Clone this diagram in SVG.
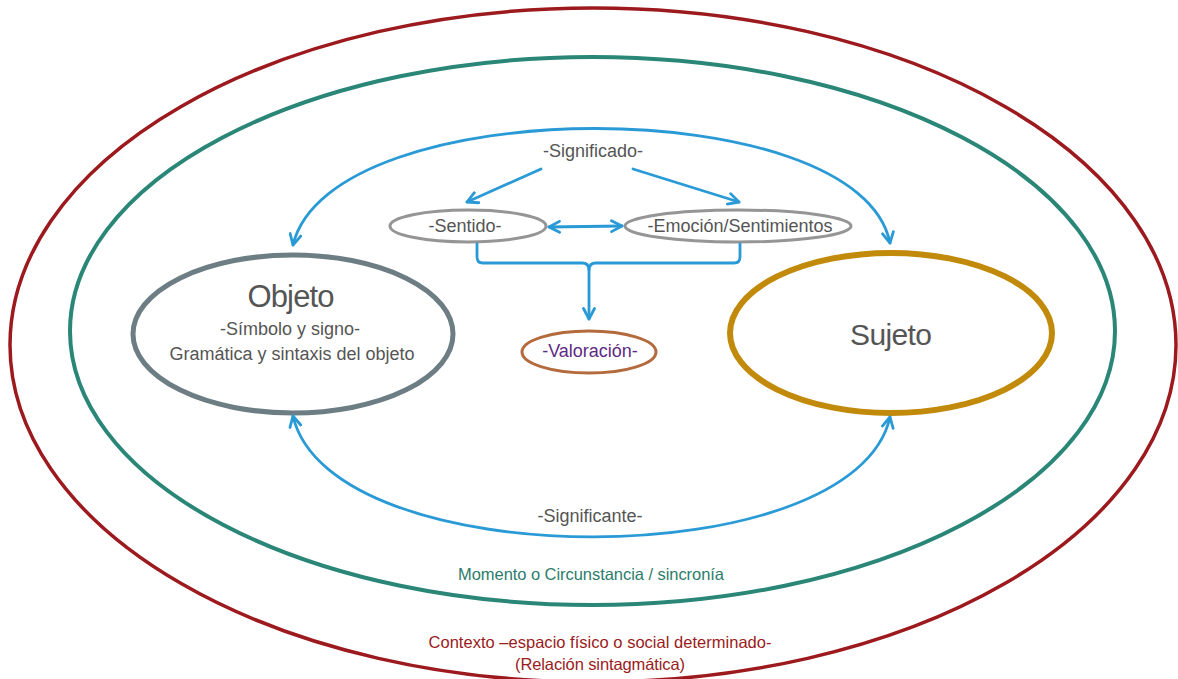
<svg xmlns="http://www.w3.org/2000/svg" width="1178" height="679" viewBox="0 0 1178 679">
  <style>
    .lbl { font-family: "Liberation Sans", Arial, sans-serif; fill: #555555; text-anchor: middle; }
    .conn { fill: none; stroke: #2a9ad6; stroke-width: 2.8; stroke-linecap: round; stroke-linejoin: round; }
  </style>
  <defs>
    <marker id="arrow" viewBox="0 0 14 14" refX="12" refY="7" markerWidth="14" markerHeight="14" markerUnits="userSpaceOnUse" orient="auto-start-reverse">
      <path d="M1.5,1.5 L12,7 L1.5,12.5" fill="none" stroke="#2a9ad6" stroke-width="2.8" stroke-linecap="round" stroke-linejoin="round"/>
    </marker>
  </defs>
  <rect width="1178" height="679" fill="#ffffff"/>

  <!-- outer context ring -->
  <g id="contexto">
    <ellipse cx="593" cy="345" rx="583" ry="337" fill="none" stroke="#9c1a1e" stroke-width="3.5"/>
    <text class="lbl" x="600" y="648" font-size="16.5" style="fill:#9a1b20" textLength="343">Contexto –espacio físico o social determinado-</text>
    <text class="lbl" x="600" y="670" font-size="16.5" style="fill:#9a1b20" textLength="170">(Relación sintagmática)</text>
  </g>

  <!-- moment / synchrony ring -->
  <g id="momento">
    <ellipse cx="592.5" cy="331" rx="522.5" ry="274" fill="none" stroke="#2a8677" stroke-width="4"/>
    <text class="lbl" x="591" y="580" font-size="16.5" style="fill:#2d7c6b" textLength="266">Momento o Circunstancia / sincronía</text>
  </g>

  <g id="objeto">
    <ellipse cx="293" cy="334" rx="160" ry="79" fill="#ffffff" stroke="#6d7d84" stroke-width="5"/>
    <text class="lbl" x="291" y="307" font-size="31" textLength="87">Objeto</text>
    <text class="lbl" x="290" y="335" font-size="18">-Símbolo y signo-</text>
    <text class="lbl" x="292" y="360" font-size="18">Gramática y sintaxis del objeto</text>
  </g>

  <g id="sujeto">
    <ellipse cx="891" cy="333" rx="161" ry="80" fill="#ffffff" stroke="#c28a0a" stroke-width="6"/>
    <text class="lbl" x="891" y="345" font-size="30" textLength="82">Sujeto</text>
  </g>

  <g id="sentido">
    <ellipse cx="468" cy="226" rx="78" ry="16" fill="#ffffff" stroke="#959595" stroke-width="3"/>
    <text class="lbl" x="465" y="232" font-size="18">-Sentido-</text>
  </g>

  <g id="emocion">
    <ellipse cx="738" cy="226" rx="113" ry="16" fill="#ffffff" stroke="#959595" stroke-width="3"/>
    <text class="lbl" x="740" y="232" font-size="18" textLength="185">-Emoción/Sentimientos</text>
  </g>

  <g id="valoracion">
    <ellipse cx="589" cy="352" rx="67" ry="21" fill="#ffffff" stroke="#b36a3c" stroke-width="3"/>
    <text class="lbl" x="590" y="357" font-size="18" style="fill:#5e2a84">-Valoración-</text>
  </g>

  <g id="significado">
    <text class="lbl" x="593" y="157" font-size="18">-Significado-</text>
  </g>

  <g id="significante">
    <text class="lbl" x="590" y="522" font-size="18">-Significante-</text>
  </g>

  <!-- connectors -->
  <g id="connectors">
    <path class="conn" d="M293 245 C330 90, 860 90, 890 243" marker-start="url(#arrow)" marker-end="url(#arrow)"/>
    <path class="conn" d="M293 416 C330 577, 855 577, 890 417" marker-start="url(#arrow)" marker-end="url(#arrow)"/>
    <path class="conn" d="M541 169 L467 202" marker-end="url(#arrow)"/>
    <path class="conn" d="M633 169 L739 202" marker-end="url(#arrow)"/>
    <path class="conn" d="M549 227 L622 226" marker-start="url(#arrow)" marker-end="url(#arrow)"/>
    <path class="conn" d="M477 244 V257 Q477 263 483 263 H582 Q589 263 589 270 Q589 263 596 263 H734 Q740 263 740 257 V244"/>
    <path class="conn" d="M589 268 V319" marker-end="url(#arrow)"/>
  </g>
</svg>
